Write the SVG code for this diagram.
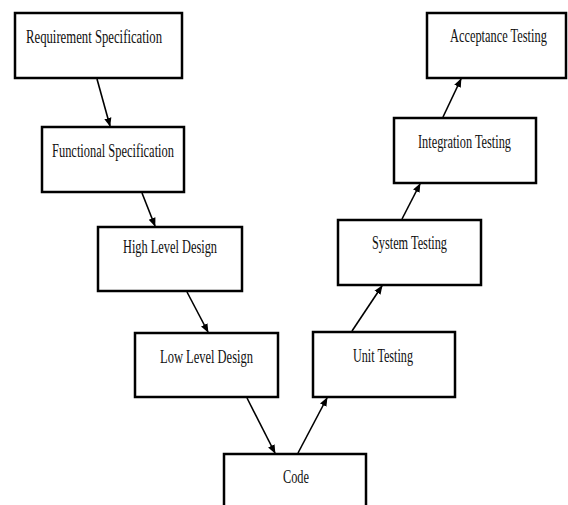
<svg xmlns="http://www.w3.org/2000/svg" width="568" height="505" viewBox="0 0 568 505">
<defs>
<marker id="ah" viewBox="0 0 10 10" refX="9" refY="5" markerWidth="9" markerHeight="9" markerUnits="userSpaceOnUse" orient="auto">
<path d="M0,1 L10,5 L0,9 z" fill="#000"/>
</marker>
<style>
.box{fill:#fff;stroke:#000;stroke-width:2.5}
.lbl{font-family:"Liberation Serif","Times New Roman",serif;font-size:18px;fill:#111}
.con{stroke:#000;stroke-width:1.6;fill:none;marker-end:url(#ah)}
</style>
</defs>
<rect width="568" height="505" fill="#fff"/>
<g id="n-req"><rect class="box" x="15" y="13" width="167" height="65"/><text class="lbl" x="26" y="43" textLength="136" lengthAdjust="spacingAndGlyphs">Requirement Specification</text></g>
<g id="n-func"><rect class="box" x="42" y="127" width="142" height="65"/><text class="lbl" x="52" y="157" textLength="122" lengthAdjust="spacingAndGlyphs">Functional Specification</text></g>
<g id="n-hld"><rect class="box" x="98" y="227" width="144" height="64"/><text class="lbl" x="123" y="253" textLength="94" lengthAdjust="spacingAndGlyphs">High Level Design</text></g>
<g id="n-lld"><rect class="box" x="135" y="333" width="143" height="64"/><text class="lbl" x="160" y="363" textLength="93" lengthAdjust="spacingAndGlyphs">Low Level Design</text></g>
<g id="n-code"><rect class="box" x="224" y="454" width="142" height="70"/><text class="lbl" x="283" y="483" textLength="26" lengthAdjust="spacingAndGlyphs">Code</text></g>
<g id="n-unit"><rect class="box" x="313" y="332" width="142" height="65"/><text class="lbl" x="353" y="362" textLength="60" lengthAdjust="spacingAndGlyphs">Unit Testing</text></g>
<g id="n-sys"><rect class="box" x="338" y="220" width="143" height="65"/><text class="lbl" x="372" y="249" textLength="75" lengthAdjust="spacingAndGlyphs">System Testing</text></g>
<g id="n-int"><rect class="box" x="394" y="118" width="142" height="65"/><text class="lbl" x="418" y="148" textLength="93" lengthAdjust="spacingAndGlyphs">Integration Testing</text></g>
<g id="n-acc"><rect class="box" x="427" y="13" width="139" height="65"/><text class="lbl" transform="translate(450 42) scale(0.65 1)" x="0" y="0" textLength="149" lengthAdjust="spacingAndGlyphs">Acceptance Testing</text></g>
<g id="connectors">
<line class="con" x1="97" y1="79" x2="110" y2="126"/>
<line class="con" x1="142" y1="193" x2="155" y2="226"/>
<line class="con" x1="187" y1="292" x2="208" y2="332"/>
<line class="con" x1="247" y1="398" x2="275" y2="453"/>
<line class="con" x1="298" y1="453" x2="327" y2="398"/>
<line class="con" x1="352" y1="331" x2="382" y2="286"/>
<line class="con" x1="402" y1="219" x2="420" y2="184"/>
<line class="con" x1="443" y1="117" x2="461" y2="79"/>
</g>
</svg>
